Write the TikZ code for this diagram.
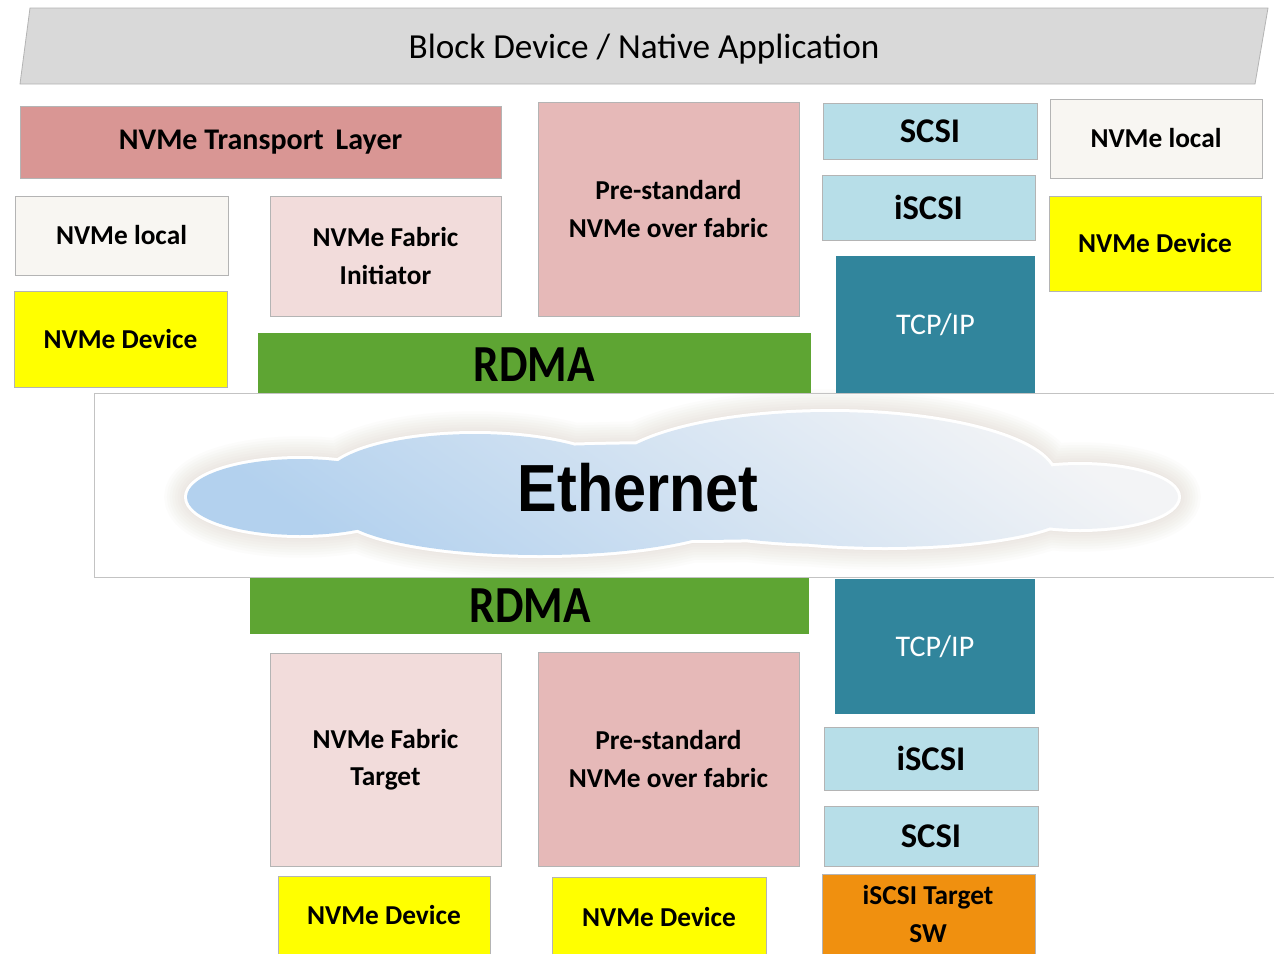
\documentclass[tikz,border=0pt]{standalone}
\usepackage{fontspec}
\setmainfont{Carlito}
\newfontfamily\ethfont{Liberation Sans}
\usetikzlibrary{fit}
\definecolor{bannerfill}{HTML}{D9D9D9}
\definecolor{edgegray}{HTML}{B4B4B4}
\definecolor{transfill}{HTML}{D99694}
\definecolor{localfill}{HTML}{F8F6F2}
\definecolor{initfill}{HTML}{F2DCDB}
\definecolor{prefill}{HTML}{E6B9B8}
\definecolor{rdmafill}{HTML}{5EA533}
\definecolor{scsifill}{HTML}{B7DEE8}
\definecolor{tcpfill}{HTML}{31859C}
\definecolor{devfill}{HTML}{FFFF00}
\definecolor{swfill}{HTML}{F0900F}
\definecolor{glowc}{HTML}{C9BBAA}
\definecolor{cloudlow}{HTML}{B3D1EE}
\definecolor{cloudhigh}{HTML}{F3F4F6}
\begin{document}
\begin{tikzpicture}[x=0.75pt,y=-0.75pt,
  box/.style={draw=edgegray, line width=0.6pt, inner sep=0pt, outer sep=0pt},
  lbl/.style={align=center, inner sep=0pt, font=\bfseries\fontsize{20.5pt}{28pt}\selectfont},
  bigtxt/.style={align=center, inner sep=0pt, font=\bfseries\fontsize{26pt}{30pt}\selectfont},
  tcptxt/.style={text=white, inner sep=0pt, font=\fontsize{22.5pt}{28pt}\selectfont},
  rdmatxt/.style={inner sep=0pt, font=\bfseries\fontsize{39pt}{44pt}\selectfont},
  cloudshape/.style={insert path={
    (300,497) ellipse [x radius=113, y radius=38]
    (475,480) ellipse [x radius=150, y radius=46]
    (830,478) ellipse [x radius=225, y radius=66]
    (1080,497) ellipse [x radius=98, y radius=32]
    (540,512) ellipse [x radius=200, y radius=43]
    (885,508) ellipse [x radius=190, y radius=39]
    (680,492) ellipse [x radius=420, y radius=48]}}
]
\useasboundingbox (0,0) rectangle (1274,953);
\fill[white] (0,0) rectangle (1274,953);

% banner
\draw[fill=bannerfill, draw=edgegray, line width=0.6pt]
  (30,8) -- (1268,8) -- (1255,84) -- (20,84) -- cycle;
\node[inner sep=0pt, font=\fontsize{26.4pt}{30pt}\selectfont] (banner) at (644,49) {Block Device / Native Application};

% ethernet box
\draw[draw=edgegray!80, line width=0.6pt, fill=white] (94,393) rectangle (1290,577);

% cloud
\foreach \w in {34,30,...,6} {
  \path[draw=glowc, line width=\w pt, opacity=0.045, cloudshape];
}
\path[draw=white, line width=4.5pt, cloudshape];
\shade[cloudshape, top color=cloudhigh, bottom color=cloudlow, shading angle=-35];
\node[inner sep=0pt, font=\ethfont\bfseries\fontsize{50pt}{56pt}\selectfont] (eth) at (638,488) {\scalebox{0.89}[1]{Ethernet}};

% top left group
\node[box, fill=transfill, fit={(20,106) (501,178)}] (tl) {};
\node[lbl, font=\bfseries\fontsize{22.5pt}{28pt}\selectfont] (tlt) at (tl) {NVMe Transport\ \,Layer};
\node[box, fill=localfill, fit={(15,196) (228,275)}] (local1) {};
\node[lbl] (local1t) at (local1) {NVMe local};
\node[box, fill=initfill, fit={(270,196) (501,316)}] (init) {};
\node[lbl] (initt) at (init) {NVMe Fabric\\Initiator};
\node[box, fill=devfill, fit={(14,291) (227,387)}] (dev1) {};
\node[lbl] (dev1t) at (dev1) {NVMe Device};
\node[box, fill=prefill, fit={(538,102) (799,316)}] (pre1) {};
\node[lbl] (pre1t) at (pre1) {Pre-standard\\NVMe over fabric};
\node[box, fill=rdmafill, draw=none, fit={(258,333) (811,393)}] (rdma1) {};
\node[rdmatxt] (rdmat1) at (534,365) {\scalebox{0.87}[1]{RDMA}};

% top right group
\node[box, fill=scsifill, fit={(823,103) (1037,159)}] (scsi1) {};
\node[bigtxt] (scsi1t) at (scsi1) {SCSI};
\node[box, fill=scsifill, fit={(822,175) (1035,240)}] (iscsi1) {};
\node[bigtxt] (iscsi1t) at (iscsi1) {iSCSI};
\node[box, fill=tcpfill, draw=none, fit={(836,256) (1035,393)}] (tcp1) {};
\node[tcptxt] (tcp1t) at (tcp1) {TCP/IP};
\node[box, fill=localfill, fit={(1050,99) (1262,178)}] (local2) {};
\node[lbl] (local2t) at (local2) {NVMe local};
\node[box, fill=devfill, fit={(1049,196) (1261,291)}] (dev2) {};
\node[lbl] (dev2t) at (dev2) {NVMe Device};

% ethernet box edges over the bars
\draw[draw=edgegray!80, line width=0.6pt] (94,393) -- (1290,393);
\draw[draw=edgegray!80, line width=0.6pt] (94,577) -- (1290,577);

% bottom group
\node[box, fill=rdmafill, draw=none, fit={(250,578) (809,634)}] (rdma2) {};
\node[rdmatxt] (rdmat2) at (530,606) {\scalebox{0.87}[1]{RDMA}};
\node[box, fill=tcpfill, draw=none, fit={(835,579) (1035,714)}] (tcp2) {};
\node[tcptxt] (tcp2t) at (tcp2) {TCP/IP};
\node[box, fill=initfill, fit={(270,653) (501,866)}] (target) {};
\node[lbl] (targett) at (target) {NVMe Fabric\\Target};
\node[box, fill=prefill, fit={(538,652) (799,866)}] (pre2) {};
\node[lbl] (pre2t) at (pre2) {Pre-standard\\NVMe over fabric};
\node[box, fill=scsifill, fit={(824,727) (1038,790)}] (iscsi2) {};
\node[bigtxt] (iscsi2t) at (iscsi2) {iSCSI};
\node[box, fill=scsifill, fit={(824,806) (1038,866)}] (scsi2) {};
\node[bigtxt] (scsi2t) at (scsi2) {SCSI};
\node[box, fill=devfill, fit={(278,876) (490,955)}] (dev3) {};
\node[lbl] (dev3t) at (384,915) {NVMe Device};
\node[box, fill=devfill, fit={(552,877) (766,955)}] (dev4) {};
\node[lbl] (dev4t) at (659,917) {NVMe Device};
\node[box, fill=swfill, fit={(822,874) (1035,955)}] (sw) {};
\node[lbl] (swt) at (928,914) {iSCSI Target\\SW};
\end{tikzpicture}
\end{document}
